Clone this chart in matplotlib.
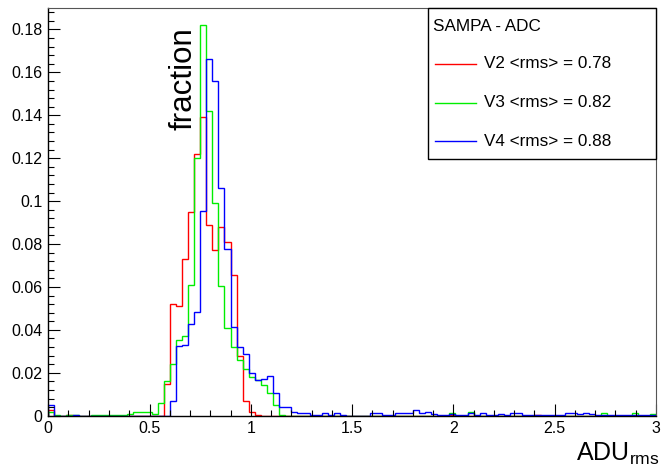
import numpy as np
import matplotlib
matplotlib.use("Agg")
import matplotlib.pyplot as plt
from matplotlib.ticker import MultipleLocator, FuncFormatter
from matplotlib.patches import Rectangle
from matplotlib.lines import Line2D

plt.rcParams['font.family'] = ['Liberation Sans', 'DejaVu Sans']
plt.rcParams['mathtext.fontset'] = 'custom'
plt.rcParams['mathtext.rm'] = 'Liberation Sans'

# histogram binning: 100 bins from 0 to 3
bin_edges = np.linspace(0, 3, 101)

red_v2 = [0.0025, 0, 0, 0.0003, 0, 0, 0, 0, 0, 0,
          0, 0, 0, 0, 0, 0, 0, 0, 0, 0.015,
          0.052, 0.051, 0.073, 0.095, 0.122, 0.139, 0.0888, 0.077, 0.088, 0.081,
          0.0655, 0.028, 0.007, 0.0019, 0.0005, 0, 0, 0, 0, 0,
          0, 0, 0, 0, 0, 0, 0, 0, 0, 0,
          0, 0, 0, 0, 0, 0, 0, 0, 0, 0,
          0, 0, 0, 0, 0, 0, 0.0003, 0, 0, 0,
          0, 0, 0, 0, 0, 0, 0, 0, 0, 0,
          0.0003, 0, 0, 0, 0, 0, 0, 0, 0, 0,
          0, 0, 0, 0, 0, 0, 0, 0, 0, 0]

green_v3 = [0.0015, 0.0003, 0, 0.0003, 0.0003, 0, 0, 0.0003, 0.0003, 0.0003,
            0.0005, 0.0005, 0.0005, 0.0008, 0.0015, 0.0017, 0.0019, 0.0008, 0.0058, 0.0163,
            0.024, 0.0353, 0.0372, 0.0609, 0.120, 0.182, 0.142, 0.099, 0.0604, 0.0407,
            0.0321, 0.026, 0.0216, 0.0182, 0.0166, 0.0143, 0.0104, 0.005, 0.0003, 0,
            0, 0, 0, 0, 0, 0, 0, 0, 0, 0,
            0, 0, 0, 0, 0, 0, 0, 0, 0, 0,
            0, 0, 0, 0, 0, 0, 0.0014, 0, 0, 0.0019,
            0, 0, 0, 0, 0, 0, 0, 0, 0, 0,
            0, 0, 0, 0, 0, 0, 0, 0, 0, 0,
            0, 0.0011, 0, 0, 0, 0, 0.0011, 0, 0, 0.0008]

blue_v4 = [0.005, 0, 0, 0, 0.0005, 0, 0, 0, 0, 0,
           0, 0, 0, 0, 0, 0, 0, 0, 0, 0,
           0.007, 0.0325, 0.033, 0.0426, 0.0485, 0.0955, 0.166, 0.156, 0.106, 0.0775,
           0.0415, 0.032, 0.0287, 0.020, 0.0168, 0.017, 0.0185, 0.0107, 0.0042, 0.0042,
           0.0019, 0.0011, 0.0011, 0.0003, 0.0003, 0.0011, 0.0003, 0.0014, 0.0003, 0,
           0, 0, 0, 0.0011, 0.0011, 0.0005, 0.0005, 0.0014, 0.0014, 0.0014,
           0.0026, 0.0011, 0.0019, 0.0008, 0.0003, 0.0003, 0.0008, 0.0003, 0.0003, 0.0011,
           0.0003, 0.0011, 0.0003, 0.0003, 0.0008, 0.0003, 0.0014, 0.0014, 0.0003, 0.0003,
           0.0003, 0.0003, 0.0003, 0.0003, 0.0003, 0.0011, 0.0011, 0.0008, 0.0011, 0.0008,
           0.0003, 0.0003, 0.0003, 0.0003, 0.0003, 0.0003, 0.0003, 0.0003, 0.0003, 0.0003]

legend_title = "SAMPA - ADC"
series_labels = ["V2 <rms> = 0.78", "V3 <rms> = 0.82", "V4 <rms> = 0.88"]
series_colors = ["#ff0000", "#00ee00", "#0000ff"]

W, H = 663, 470
fig = plt.figure(figsize=(W / 100, H / 100), dpi=100)
ax = fig.add_axes([48.2 / W, 1 - 415.7 / H, (656 - 48.2) / W, (415.7 - 8) / H])

for vals, col in zip([red_v2, green_v3, blue_v4], series_colors):
    ax.stairs(vals, bin_edges, color=col, linewidth=1.0, baseline=0)

ax.set_xlim(0, 3)
ax.set_ylim(0, 0.19)

ax.xaxis.set_major_locator(MultipleLocator(0.5))
ax.xaxis.set_minor_locator(MultipleLocator(0.1))
ax.yaxis.set_major_locator(MultipleLocator(0.02))
ax.yaxis.set_minor_locator(MultipleLocator(0.004))
fmt = FuncFormatter(lambda v, p: "%g" % round(v, 4))
ax.xaxis.set_major_formatter(fmt)
ax.yaxis.set_major_formatter(fmt)

ax.tick_params(which='major', direction='in', length=8.6, width=0.8, labelsize=11.5,
               top=False, right=False)
ax.tick_params(which='minor', direction='in', length=4.3, width=0.8, top=False, right=False)
ax.tick_params(axis='x', pad=4)
ax.tick_params(axis='y', pad=4)

for s in ['left', 'bottom']:
    ax.spines[s].set_color('black')
    ax.spines[s].set_linewidth(1.0)
for s in ['top', 'right']:
    ax.spines[s].set_color('#555555')
    ax.spines[s].set_linewidth(0.8)

# axis titles (ROOT style)
fig.text(184 / W, 1 - 27 / H, "fraction", rotation=90, ha='center', va='top', fontsize=22.5)
fig.text(660 / W, 1 - 461 / H, r"ADU$_{\mathrm{rms}}$", ha='right', va='baseline', fontsize=18)

# legend box
def fx(px):
    return px / W

def fy(py):
    return 1 - py / H

fig.add_artist(Rectangle((fx(427.5), fy(159)), fx(656) - fx(427.5), fy(8) - fy(159),
                         transform=fig.transFigure, facecolor='white', edgecolor='black',
                         linewidth=1.0, zorder=5))
fig.text(fx(433), fy(26.5), legend_title, ha='left', va='center', fontsize=12.3, zorder=6)
for i, (lab, col) in enumerate(zip(series_labels, series_colors)):
    yy = [64, 102.5, 141][i]
    fig.add_artist(Line2D([fx(435), fx(476)], [fy(yy), fy(yy)], transform=fig.transFigure,
                          color=col, linewidth=1.0, zorder=6))
    fig.text(fx(484), fy(yy), lab, ha='left', va='center', fontsize=12.3, zorder=6)

fig.savefig("out.png", dpi=100, facecolor='white')
